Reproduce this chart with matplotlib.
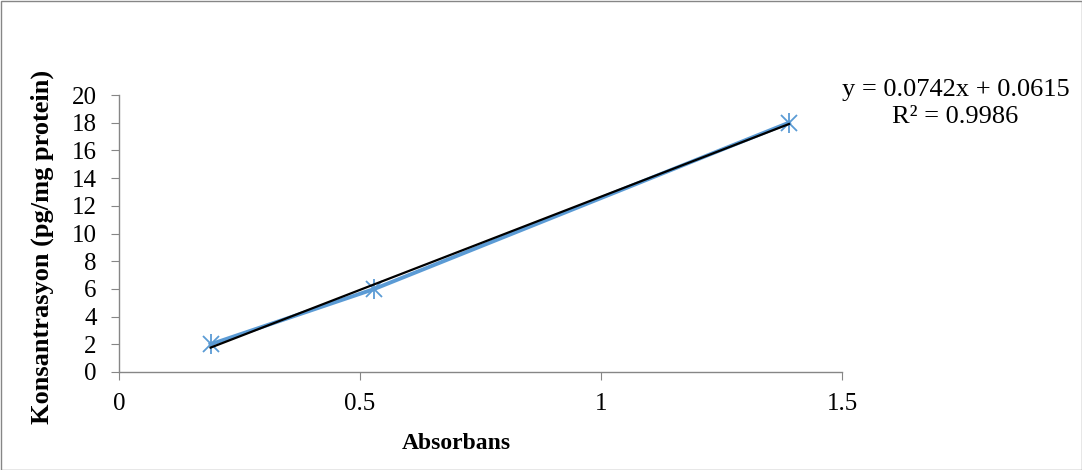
import numpy as np
from matplotlib import pyplot as plt
from matplotlib.patches import Rectangle

# Calibration data
absorbans = [0.19, 0.53, 1.39]
konsantrasyon = [2, 6, 18]
x_ticks = [0, 0.5, 1, 1.5]
x_tick_labels = ["0", "0.5", "1", "1.5"]
y_ticks = list(range(0, 21, 2))
equation_lines = ["y = 0.0742x + 0.0615", "R² = 0.9986"]

BLUE = "#5B9BD5"
GRAY = "#868686"

plt.rcParams["font.family"] = ["Liberation Serif", "DejaVu Serif"]
fig = plt.figure(figsize=(1082 / 100, 470 / 100), dpi=100)
ax = fig.add_axes([119 / 1082, 1 - 372 / 470, (842 - 119) / 1082, (372 - 95) / 470])

# data series with star markers (x plus vertical bar)
ax.plot(absorbans, konsantrasyon, color=BLUE, lw=2.8, marker="x", ms=12, mew=1.3, zorder=2)
ax.plot(absorbans, konsantrasyon, ls="none", color=BLUE, marker="|", ms=14, mew=1.3, zorder=2)

# linear trendline
coef = np.polyfit(absorbans, konsantrasyon, 1)
xs = np.array([min(absorbans), max(absorbans)])
ax.plot(xs, np.polyval(coef, xs), color="black", lw=1.6, zorder=3)

ax.set_xlim(0, 1.5)
ax.set_ylim(0, 20)
ax.set_xticks(x_ticks)
ax.set_xticklabels(x_tick_labels)
ax.set_yticks(y_ticks)
ax.tick_params(axis="both", direction="out", length=6, color=GRAY, labelsize=18)
ax.tick_params(axis="x", pad=9)
ax.tick_params(axis="y", pad=10)
for side in ["top", "right"]:
    ax.spines[side].set_visible(False)
for side in ["left", "bottom"]:
    ax.spines[side].set_color(GRAY)
    ax.spines[side].set_linewidth(1.0)

ax.set_xlabel("Absorbans", fontsize=17, fontweight="bold")
ax.xaxis.set_label_coords(0.467, -0.22)
ax.set_ylabel("Konsantrasyon (pg/mg protein)", fontsize=19, fontweight="bold")
ax.yaxis.set_label_coords(-0.09, 0.45)

fig.text(956 / 1082, 1 - 90 / 470, equation_lines[0], ha="center", va="center", fontsize=19)
fig.text(955 / 1082, 1 - 117 / 470, equation_lines[1], ha="center", va="center", fontsize=19)

fig.patches.append(Rectangle((0.5 / 1082, 0.5 / 470), 1081 / 1082, 469 / 470,
                             transform=fig.transFigure, fill=False,
                             edgecolor=GRAY, lw=1.0))

plt.savefig("out.png", dpi=100)
